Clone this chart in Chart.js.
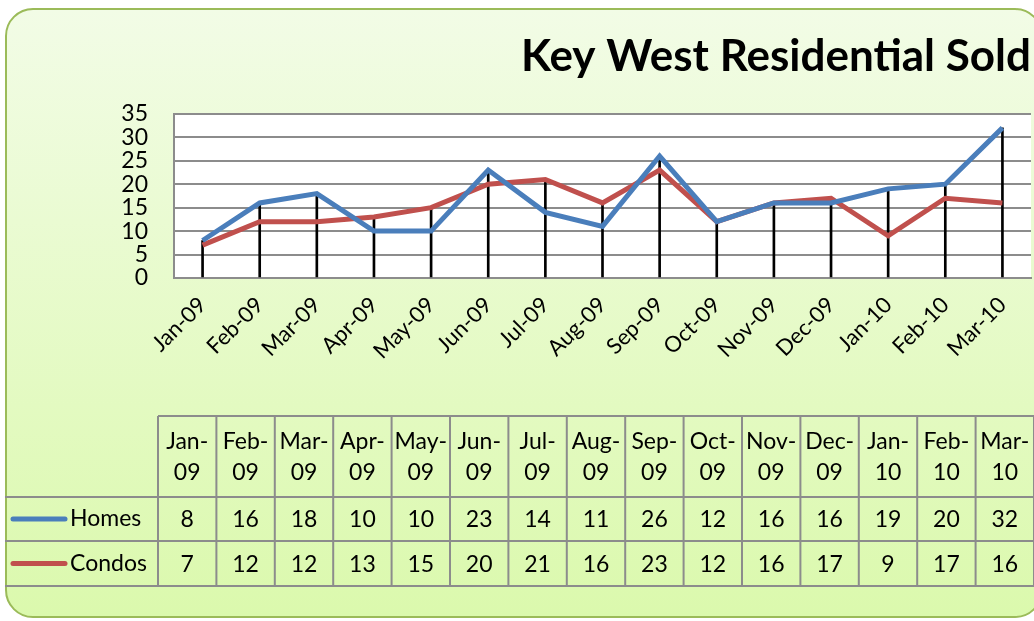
<!DOCTYPE html>
<html>
<head>
<meta charset="utf-8">
<title>Key West Residential Sold</title>
<script src="https://cdn.jsdelivr.net/npm/chart.js@4"></script>
<style>
  html, body { margin: 0; padding: 0; background: #fff; }
  #wrap { position: relative; width: 1034px; height: 621px; overflow: hidden; }
  #card {
    position: absolute; left: 5px; top: 8px; width: 1034px; height: 606px;
    border: 2px solid #9bbb59; border-radius: 28px;
    background: linear-gradient(#f2fce6, #dbf9ad);
  }
  canvas { position: absolute; left: 0; top: 0; }
</style>
</head>
<body>
<div id="wrap">
  <div id="card"></div>
  <canvas id="soldChart" width="1034" height="621"></canvas>
</div>
<script>
// data
var months = ['Jan-09', 'Feb-09', 'Mar-09', 'Apr-09', 'May-09', 'Jun-09', 'Jul-09', 'Aug-09',
              'Sep-09', 'Oct-09', 'Nov-09', 'Dec-09', 'Jan-10', 'Feb-10', 'Mar-10'];
var homes  = [8, 16, 18, 10, 10, 23, 14, 11, 26, 12, 16, 16, 19, 20, 32];
var condos = [7, 12, 12, 13, 15, 20, 21, 16, 23, 12, 16, 17, 9, 17, 16];
var yTicks = [0, 5, 10, 15, 20, 25, 30, 35];

var FONT = 'Lato, "Noto Sans", sans-serif';
var blue = '#4a7ebb';
var red = '#c0504d';

// drop lines go from the higher of the two points down to the axis
var dropLines = homes.map(function (h, i) { return Math.max(h, condos[i]); });

// white plot area
var plotBg = {
    id: 'plotBg',
    beforeDraw: function (chart) {
        var a = chart.chartArea, ctx = chart.ctx;
        ctx.save();
        ctx.fillStyle = '#ffffff';
        ctx.fillRect(a.left, a.top, a.right - a.left, a.bottom - a.top);
        ctx.restore();
    }
};

// Excel-style data table under the chart
var dataTable = {
    id: 'dataTable',
    afterDraw: function (chart) {
        var ctx = chart.ctx;
        var left = 158, right = chart.width;
        var colW = (right - left) / months.length;
        var rows = [416, 497, 541, 586];
        var series = [
            { name: 'Homes', values: homes, color: blue },
            { name: 'Condos', values: condos, color: red }
        ];
        ctx.save();
        ctx.strokeStyle = '#8c8c8c';
        ctx.lineWidth = 2;
        ctx.beginPath();
        ctx.moveTo(left, rows[0]); ctx.lineTo(right, rows[0]);
        for (var r = 1; r < rows.length; r++) {
            ctx.moveTo(5, rows[r]); ctx.lineTo(right, rows[r]);
        }
        for (var c = 0; c <= months.length; c++) {
            var x = left + c * colW;
            ctx.moveTo(x, rows[0]); ctx.lineTo(x, rows[3]);
        }
        ctx.stroke();

        ctx.fillStyle = '#000';
        ctx.font = '23px ' + FONT;
        ctx.textAlign = 'center';
        ctx.textBaseline = 'middle';
        months.forEach(function (m, i) {
            var cx = left + (i + 0.5) * colW;
            var parts = m.split('-');
            ctx.fillText(parts[0] + '-', cx, 442);
            ctx.fillText(parts[1], cx, 473);
            series.forEach(function (s, k) {
                ctx.fillText(String(s.values[i]), cx, (rows[k + 1] + rows[k + 2]) / 2 + 1);
            });
        });

        series.forEach(function (s, k) {
            var cy = (rows[k + 1] + rows[k + 2]) / 2;
            ctx.strokeStyle = s.color;
            ctx.lineWidth = 5;
            ctx.lineCap = 'round';
            ctx.beginPath();
            ctx.moveTo(13, cy); ctx.lineTo(65, cy);
            ctx.stroke();
            ctx.textAlign = 'left';
            ctx.fillStyle = '#000';
            ctx.fillText(s.name, 70, cy);
        });
        ctx.restore();
    }
};

var ctx = document.getElementById('soldChart').getContext('2d');
var soldChart = new Chart(ctx, {
    data: {
        labels: months,
        datasets: [
            {
                type: 'line', label: 'Homes', data: homes,
                borderColor: blue, borderWidth: 5, pointRadius: 0,
                tension: 0, order: 1
            },
            {
                type: 'line', label: 'Condos', data: condos,
                borderColor: red, borderWidth: 5, pointRadius: 0,
                tension: 0, order: 2
            },
            {
                type: 'bar', label: 'drop', data: dropLines,
                backgroundColor: '#000', barThickness: 2, order: 3
            }
        ]
    },
    options: {
        responsive: false,
        animation: false,
        layout: { padding: { left: 0, right: 3, top: 0, bottom: 0 } },
        plugins: {
            legend: { display: false },
            tooltip: { enabled: false },
            title: {
                display: true,
                text: 'Key West Residential Sold',
                align: 'end',
                color: '#000',
                font: { family: FONT, size: 44, weight: 'bold', lineHeight: 1.2 },
                padding: { top: 30, bottom: 31 }
            }
        },
        scales: {
            x: {
                offset: true,
                grid: { display: false },
                border: { color: '#8c8c8c', width: 2 },
                ticks: {
                    color: '#000', minRotation: 45, maxRotation: 45, padding: 6,
                    autoSkip: false,
                    font: { family: FONT, size: 22 }
                },
                afterFit: function (scale) { scale.height = 343; }
            },
            y: {
                min: 0, max: 35,
                afterBuildTicks: function (scale) {
                    scale.ticks = yTicks.map(function (v) { return { value: v }; });
                },
                grid: { color: '#8c8c8c', lineWidth: 2, drawTicks: false },
                border: { color: '#8c8c8c', width: 2 },
                ticks: {
                    color: '#000', padding: 26, autoSkip: false,
                    font: { family: FONT, size: 23, lineHeight: 1 }
                },
                afterFit: function (scale) { scale.width = 174; }
            }
        }
    },
    plugins: [plotBg, dataTable]
});
</script>
</body>
</html>
